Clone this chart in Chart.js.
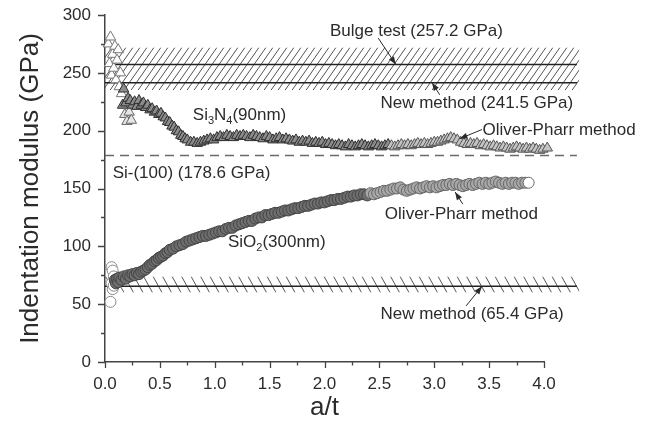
<!DOCTYPE html>
<html>
<head>
<meta charset="utf-8">
<script src="https://cdn.jsdelivr.net/npm/chart.js@4.4.1/dist/chart.umd.min.js"></script>
<style>
  body { margin: 0; background: #fff; }
  #wrap { width: 649px; height: 425px; }
</style>
</head>
<body>
<div id="wrap"><canvas id="myChart" width="649" height="425"></canvas></div>
<script>
// Si3N4 (90nm) film, Oliver-Pharr method (triangles)
const si3n4X = [0.03, 0.04, 0.05, 0.06, 0.07, 0.08, 0.09, 0.10, 0.11, 0.12, 0.13, 0.14, 0.15, 0.16, 0.17, 0.18, 0.19, 0.20, 0.21, 0.22,
    0.23, 0.24, 0.25, 0.27, 0.29, 0.31, 0.33, 0.35, 0.37, 0.39, 0.41, 0.43, 0.45, 0.47, 0.49, 0.51, 0.53, 0.55, 0.57, 0.59,
    0.61, 0.63, 0.65, 0.67, 0.69, 0.71, 0.73, 0.75, 0.78, 0.81, 0.84, 0.87, 0.90, 0.93, 0.96, 0.99, 1.02, 1.05, 1.08, 1.11,
    1.14, 1.17, 1.20, 1.23, 1.26, 1.29, 1.32, 1.35, 1.38, 1.41, 1.44, 1.47, 1.50, 1.53, 1.56, 1.59, 1.62, 1.65, 1.68, 1.71,
    1.74, 1.77, 1.80, 1.83, 1.86, 1.89, 1.92, 1.95, 1.98, 2.01, 2.04, 2.07, 2.10, 2.13, 2.16, 2.19, 2.22, 2.25, 2.28, 2.31,
    2.34, 2.37, 2.40, 2.43, 2.46, 2.49, 2.52, 2.55, 2.58, 2.61, 2.64, 2.67, 2.70, 2.73, 2.76, 2.79, 2.82, 2.85, 2.88, 2.91,
    2.94, 2.97, 3.00, 3.03, 3.06, 3.09, 3.12, 3.15, 3.18, 3.21, 3.24, 3.27, 3.30, 3.33, 3.36, 3.39, 3.42, 3.45, 3.48, 3.51,
    3.54, 3.57, 3.60, 3.63, 3.66, 3.69, 3.72, 3.75, 3.78, 3.81, 3.84, 3.87, 3.90, 3.93, 3.96, 3.99, 4.03, 4.07, 4.11, 4.15,
    4.19, 4.23, 4.26];
const si3n4Y = [275, 258, 281, 248, 266, 254, 273, 244, 261, 270, 238, 250, 232, 222, 236, 214, 224, 208, 228, 216,
    226, 209, 222, 225, 221, 226, 222, 224, 220, 222, 218, 219, 216, 217, 214, 215, 212, 211, 208, 207,
    204, 203, 200, 199, 196, 195, 193, 192, 190, 190, 189, 190, 191, 192, 193, 192, 194, 195, 194, 196,
    195, 194, 196, 195, 196, 195, 194, 196, 195, 194, 193, 195, 194, 192, 193, 194, 192, 193, 192, 191,
    192, 190, 191, 190, 191, 189, 190, 189, 190, 188, 189, 188, 187, 188, 187, 186, 188, 187, 186, 187,
    188, 187, 186, 187, 188, 187, 186, 187, 188, 187, 186, 187, 188, 187, 188, 187, 188, 189, 188, 189,
    188, 189, 190, 190, 191, 192, 193, 194, 193, 192, 190, 189, 188, 189, 188, 189, 187, 188, 187, 186,
    187, 186, 185, 186, 185, 184, 185, 186, 185, 184, 185, 184, 185, 184, 183, 184, 185, 183, 184, 183,
    184, 183, 184];

// SiO2 (300nm) film, Oliver-Pharr method (circles)
const sio2X = [0.05, 0.06, 0.06, 0.07, 0.07, 0.08, 0.08, 0.09, 0.10, 0.11, 0.12, 0.13, 0.15, 0.17, 0.19, 0.21, 0.23, 0.25, 0.27, 0.29,
    0.31, 0.33, 0.35, 0.37, 0.39, 0.41, 0.43, 0.45, 0.47, 0.49, 0.51, 0.53, 0.55, 0.57, 0.59, 0.62, 0.65, 0.68, 0.71, 0.74,
    0.77, 0.80, 0.83, 0.86, 0.89, 0.92, 0.95, 0.98, 1.01, 1.04, 1.07, 1.10, 1.13, 1.16, 1.19, 1.22, 1.25, 1.28, 1.31, 1.34,
    1.37, 1.40, 1.43, 1.46, 1.49, 1.52, 1.55, 1.58, 1.61, 1.64, 1.67, 1.70, 1.73, 1.76, 1.79, 1.82, 1.85, 1.88, 1.91, 1.94,
    1.97, 2.00, 2.03, 2.06, 2.09, 2.12, 2.15, 2.18, 2.21, 2.24, 2.27, 2.30, 2.33, 2.36, 2.39, 2.42, 2.45, 2.48, 2.51, 2.54,
    2.57, 2.60, 2.63, 2.66, 2.69, 2.72, 2.75, 2.78, 2.81, 2.84, 2.87, 2.90, 2.93, 2.96, 2.99, 3.02, 3.05, 3.08, 3.11, 3.14,
    3.17, 3.20, 3.23, 3.26, 3.29, 3.32, 3.35, 3.38, 3.41, 3.44, 3.47, 3.50, 3.53, 3.56, 3.59, 3.62, 3.65, 3.68, 3.71, 3.74,
    3.77, 3.80, 3.83, 3.86];
const sio2Y = [52, 82, 68, 79, 63, 74, 66, 71, 68, 72, 69, 73, 71, 74, 72, 75, 74, 76, 75, 77,
    76, 78, 79, 80, 82, 84, 85, 87, 88, 90, 91, 92, 94, 95, 97, 98, 100, 101, 102, 104,
    105, 106, 107, 108, 109, 109, 110, 111, 112, 113, 113, 115, 116, 116, 118, 119, 120, 121, 122, 122,
    124, 125, 125, 127, 127, 128, 129, 129, 130, 131, 131, 132, 133, 133, 134, 135, 135, 136, 137, 137,
    138, 138, 139, 140, 140, 141, 141, 142, 143, 143, 144, 144, 145, 145, 144, 146, 145, 146, 147, 148,
    148, 149, 150, 150, 151, 149, 148, 149, 150, 151, 150, 151, 152, 151, 152, 151, 152, 153, 153, 154,
    153, 154, 153, 152, 153, 154, 153, 154, 155, 154, 155, 154, 155, 156, 155, 154, 155, 154, 155, 155,
    154, 155, 155, 155];

// reference values (GPa)
const bulgeTest = 257.2;
const newMethodSi3N4 = 241.5;
const newMethodSiO2 = 65.4;
const siSubstrate = 178.6;
const refLineEnd = 4.3;

// hatched error bands [low, high] in GPa
const bandSi3N4 = [235, 272];
const bandSiO2 = [60, 74];

const xTicks = [0.0, 0.5, 1.0, 1.5, 2.0, 2.5, 3.0, 3.5, 4.0];
const yTicks = [0, 50, 100, 150, 200, 250, 300];

const pts = (xs, ys) => xs.map((x, i) => ({ x: x, y: ys[i] }));
const hline = (y) => [{ x: 0, y: y }, { x: refLineEnd, y: y }];

const FONT = "'Liberation Sans', Arial, sans-serif";
const INK = '#2b2b2b';

function hatch(ctx, xs, ys, band, dir, gap, slant) {
    const l = xs.getPixelForValue(0), r = xs.getPixelForValue(refLineEnd + 0.02);
    const t = ys.getPixelForValue(band[1]), b = ys.getPixelForValue(band[0]);
    const h = b - t, dx = h * slant;
    ctx.save();
    ctx.beginPath();
    ctx.rect(l, t, r - l, h);
    ctx.clip();
    ctx.strokeStyle = '#555';
    ctx.lineWidth = 1;
    ctx.beginPath();
    for (let x = l - dx; x < r + dx; x += gap) {
        if (dir === '/') { ctx.moveTo(x, b); ctx.lineTo(x + dx, t); }
        else { ctx.moveTo(x, t); ctx.lineTo(x + dx, b); }
    }
    ctx.stroke();
    ctx.restore();
}

function arrow(ctx, xs, ys, from, to) {
    const x1 = xs.getPixelForValue(from[0]), y1 = ys.getPixelForValue(from[1]);
    const x2 = xs.getPixelForValue(to[0]), y2 = ys.getPixelForValue(to[1]);
    const a = Math.atan2(y2 - y1, x2 - x1);
    ctx.save();
    ctx.strokeStyle = INK; ctx.fillStyle = INK; ctx.lineWidth = 1;
    ctx.beginPath(); ctx.moveTo(x1, y1); ctx.lineTo(x2, y2); ctx.stroke();
    ctx.beginPath();
    ctx.moveTo(x2, y2);
    ctx.lineTo(x2 - 8 * Math.cos(a) + 3 * Math.sin(a), y2 - 8 * Math.sin(a) - 3 * Math.cos(a));
    ctx.lineTo(x2 - 8 * Math.cos(a) - 3 * Math.sin(a), y2 - 8 * Math.sin(a) + 3 * Math.cos(a));
    ctx.closePath(); ctx.fill();
    ctx.restore();
}

// text with subscripts: parts = [[text, isSub], ...]
function label(ctx, xs, ys, at, parts) {
    let x = xs.getPixelForValue(at[0]);
    const y = ys.getPixelForValue(at[1]);
    ctx.save();
    ctx.fillStyle = INK;
    ctx.textBaseline = 'middle';
    ctx.textAlign = 'left';
    parts.forEach(([s, sub]) => {
        ctx.font = (sub ? '11px ' : '17px ') + FONT;
        ctx.fillText(s, x, sub ? y + 6 : y);
        x += ctx.measureText(s).width;
    });
    ctx.restore();
}

const overlay = {
    id: 'overlay',
    beforeDatasetsDraw(chart) {
        const ctx = chart.ctx, xs = chart.scales.x, ys = chart.scales.y;
        hatch(ctx, xs, ys, bandSi3N4, '/', 7, 0.7);
        hatch(ctx, xs, ys, bandSiO2, '\\', 9.5, 0.55);
    },
    afterDraw(chart) {
        const ctx = chart.ctx, xs = chart.scales.x, ys = chart.scales.y;
        const a = chart.chartArea;
        // tick marks (major long, minor short), pointing outward
        ctx.save();
        ctx.strokeStyle = '#444';
        ctx.lineWidth = 1.3;
        ctx.beginPath();
        xs.ticks.forEach(t => {
            const px = Math.round(xs.getPixelForValue(t.value)) + 0.5;
            const len = xTicks.includes(t.value) ? 6 : 3.5;
            ctx.moveTo(px, a.bottom); ctx.lineTo(px, a.bottom + len);
        });
        ys.ticks.forEach(t => {
            const py = Math.round(ys.getPixelForValue(t.value)) + 0.5;
            const len = yTicks.includes(t.value) ? 7 : 4;
            ctx.moveTo(a.left, py); ctx.lineTo(a.left - len, py);
        });
        ctx.stroke();
        ctx.restore();

        label(ctx, xs, ys, [2.05, 286], [['Bulge test (257.2 GPa)', false]]);
        arrow(ctx, xs, ys, [2.49, 280], [2.65, bulgeTest]);
        label(ctx, xs, ys, [2.51, 224], [['New method (241.5 GPa)', false]]);
        arrow(ctx, xs, ys, [3.05, 231], [2.98, newMethodSi3N4]);
        label(ctx, xs, ys, [0.80, 213.5], [['Si', false], ['3', true], ['N', false], ['4', true], ['(90nm)', false]]);
        label(ctx, xs, ys, [3.44, 200.5], [['Oliver-Pharr method', false]]);
        arrow(ctx, xs, ys, [3.435, 201], [3.23, 193]);
        label(ctx, xs, ys, [0.07, 163.3], [['Si-(100) (178.6 GPa)', false]]);
        label(ctx, xs, ys, [1.12, 103.7], [['SiO', false], ['2', true], ['(300nm)', false]]);
        label(ctx, xs, ys, [2.55, 128], [['Oliver-Pharr method', false]]);
        arrow(ctx, xs, ys, [3.26, 136.5], [3.19, 147]);
        label(ctx, xs, ys, [2.51, 41.5], [['New method (65.4 GPa)', false]]);
        arrow(ctx, xs, ys, [3.29, 48.5], [3.435, newMethodSiO2]);
    }
};

// early scattered triangles are hollow, the dense run dark, the tail lighter
const triFill = (c) => {
    const p = c.raw;
    if (!p) return '#999';
    if (p.x < 0.16) return '#ffffff';
    if (p.x < 0.26 && p.y < 219) return '#e6e6e6';
    if (p.x > 2.6) return '#c4c4c4';
    return '#8c8c8c';
};
const triEdge = (c) => {
    const p = c.raw;
    if (!p) return '#333';
    if (p.x < 0.16) return '#777';
    if (p.x < 0.26 && p.y < 219) return '#666';
    if (p.x > 2.6) return '#555';
    return '#2e2e2e';
};
const circFill = (c) => {
    const p = c.raw;
    if (!p) return '#777';
    if (p.x < 0.09 || c.dataIndex === sio2X.length - 1) return '#ffffff';
    if (p.x > 2.4) return '#a8a8a8';
    return '#6e6e6e';
};
const circEdge = (c) => {
    const p = c.raw;
    if (!p) return '#444';
    if (p.x < 0.09) return '#8a8a8a';
    if (p.x > 2.4) return '#666';
    return '#444';
};

const lineStyle = { showLine: true, pointRadius: 0, borderWidth: 1.5, clip: false, order: 2 };

const data = {
    datasets: [
        { label: 'Si3N4', data: pts(si3n4X, si3n4Y), pointStyle: 'triangle', pointRadius: 6,
          backgroundColor: triFill, borderColor: triEdge, borderWidth: 1, clip: false, order: 0 },
        { label: 'SiO2', data: pts(sio2X, sio2Y), pointStyle: 'circle', pointRadius: 5.5,
          backgroundColor: circFill, borderColor: circEdge, borderWidth: 1, clip: false, order: 1 },
        Object.assign({ data: hline(bulgeTest), borderColor: '#222' }, lineStyle),
        Object.assign({ data: hline(newMethodSi3N4), borderColor: '#222' }, lineStyle),
        Object.assign({ data: hline(newMethodSiO2), borderColor: '#222' }, lineStyle),
        Object.assign({ data: hline(siSubstrate), borderColor: '#6a6a6a', borderDash: [9, 6] }, lineStyle)
    ]
};

const config = {
    type: 'scatter',
    data: data,
    plugins: [overlay],
    options: {
        responsive: false,
        animation: false,
        events: [],
        layout: { padding: { top: 15, right: 105, bottom: 0, left: 0 } },
        plugins: {
            legend: { display: false },
            tooltip: { enabled: false }
        },
        scales: {
            x: {
                type: 'linear',
                min: 0,
                max: 4,
                afterFit: (s) => { s.height = 63; s.paddingLeft = 0; s.paddingRight = 0; },
                ticks: {
                    stepSize: 0.25,
                    autoSkip: false,
                    maxRotation: 0,
                    padding: 12,
                    color: INK,
                    font: { family: FONT, size: 17 },
                    callback: (v) => (xTicks.includes(v) ? v.toFixed(1) : '')
                },
                grid: { display: true, drawOnChartArea: false, drawTicks: false },
                border: { display: true, color: '#444', width: 1.5 },
                title: {
                    display: true,
                    text: 'a/t',
                    color: INK,
                    font: { family: FONT, size: 26 },
                    padding: { top: 0, bottom: 2 }
                }
            },
            y: {
                type: 'linear',
                min: 0,
                max: 300,
                afterFit: (s) => { s.width = 105; s.paddingTop = 0; s.paddingBottom = 0; },
                ticks: {
                    stepSize: 25,
                    autoSkip: false,
                    padding: 14,
                    color: INK,
                    font: { family: FONT, size: 17 },
                    callback: (v) => (yTicks.includes(v) ? String(v) : '')
                },
                grid: { display: true, drawOnChartArea: false, drawTicks: false },
                border: { display: true, color: '#444', width: 1.5 },
                title: {
                    display: true,
                    text: 'Indentation modulus (GPa)',
                    color: INK,
                    font: { family: FONT, size: 26 },
                    padding: { top: 15, bottom: 0 }
                }
            }
        }
    }
};

var ctx = document.getElementById("myChart").getContext('2d');
var myChart = new Chart(ctx, config);
</script>
</body>
</html>
